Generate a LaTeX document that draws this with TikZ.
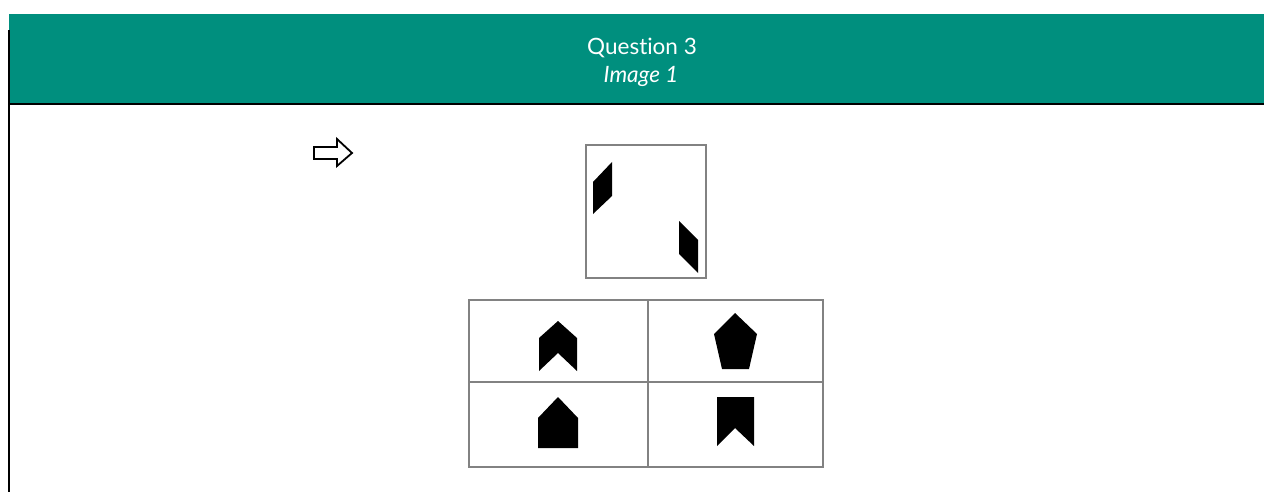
\documentclass[tikz,border=0pt]{standalone}
\usepackage{fontspec}
\setmainfont{Lato}[Ligatures={NoCommon}]
\definecolor{band}{RGB}{0,143,126}
\definecolor{frame}{RGB}{130,130,130}
\begin{document}
\begin{tikzpicture}[x=1pt,y=-1pt,
  thinbox/.style={draw=frame,line width=1.1pt},
  blackshape/.style={fill=black,draw=none},
  hdr/.style={text=white,font=\fontsize{22.5}{27}\selectfont,inner sep=0pt,anchor=base}]
\useasboundingbox (0,0) rectangle (1264,492);
% header band
\fill[band] (9,14) rectangle (1264,104);
\draw[line width=1.3pt] (9,104) -- (1264,104);
\draw[line width=1.5pt] (9,30) -- (9,492);
\node[hdr] (q) at (642,55) {Question 3};
\node[hdr,font=\fontsize{22.5}{27}\selectfont\itshape] (im) at (641,83) {Image 1};
% outline arrow
\draw[line width=1.8pt,line join=miter] (314,147) -- (337,147) -- (337,139) -- (352,153) -- (337,166) -- (337,159) -- (314,159) -- cycle;
% top box
\node[thinbox,minimum width=120pt,minimum height=133pt,inner sep=0pt] (top) at (646,211.5) {};
\fill[blackshape] (593,182) -- (612,162) -- (612,196) -- (593,214) -- cycle;
\fill[blackshape] (679,221) -- (698,240) -- (698,273) -- (679,254) -- cycle;
% grid
\draw[thinbox] (469,300) rectangle (823,467);
\draw[thinbox] (648,300) -- (648,467);
\draw[thinbox] (469,382) -- (823,382);
% chevron
\fill[blackshape] (558,321) -- (577,338) -- (577,371) -- (558,353) -- (539,371) -- (539,338) -- cycle;
% pentagon
\fill[blackshape] (735,313) -- (757,334) -- (749,369) -- (722,369) -- (714,334) -- cycle;
% house
\fill[blackshape] (558,397) -- (578,418) -- (578,448) -- (538,448) -- (538,418) -- cycle;
% banner
\fill[blackshape] (717,397) -- (754,397) -- (754,446) -- (735,428) -- (717,446) -- cycle;
\end{tikzpicture}
\end{document}
